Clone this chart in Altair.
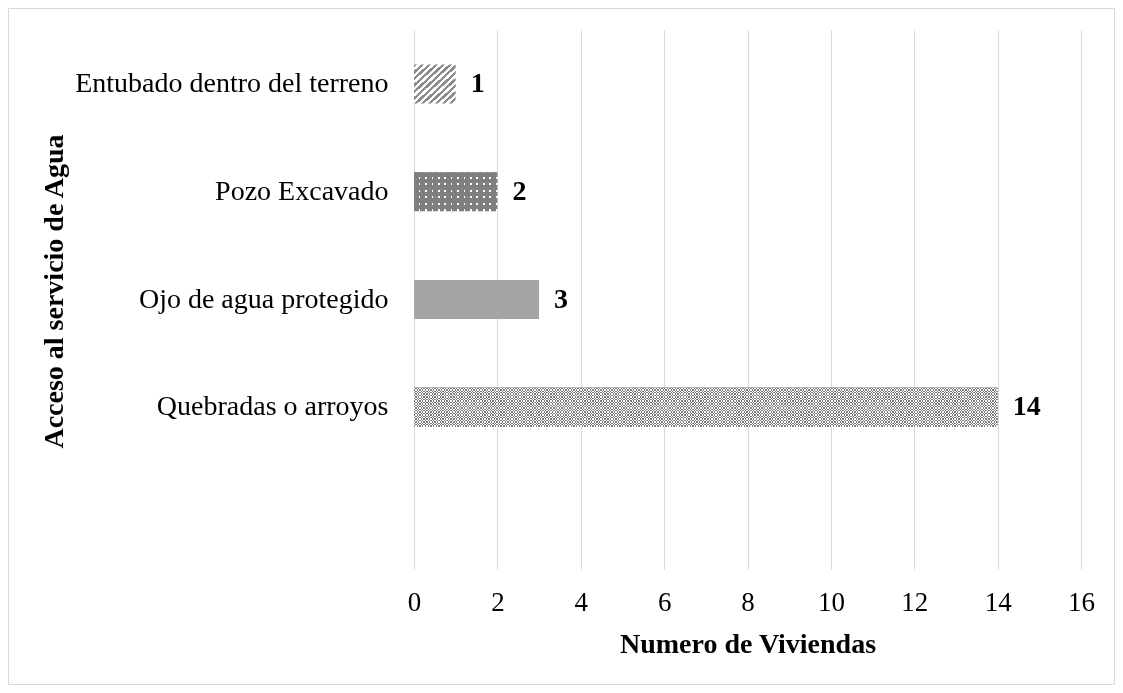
import altair as alt
import pandas as pd

# ---- data ----
categories = ["Entubado dentro del terreno", "Pozo Excavado\u00a0",
              "Ojo de agua protegido", "Quebradas o arroyos"]
values = [1, 2, 3, 14]
y_domain = categories + [""]          # empty fifth slot as in the original
x_ticks = [0, 2, 4, 6, 8, 10, 12, 14, 16]

df = pd.DataFrame({"acceso": categories, "viviendas": values})

FONT = "Liberation Serif"
GRID = "#d9d9d9"


# ---- fill textures (style only) built as hard-stop gradients ----
def stripes(n, c1, c2, x2, y2, frac=0.5):
    stops = []
    for i in range(n):
        a, b, c = i / n, (i + frac) / n, (i + 1) / n
        stops += [{"offset": a, "color": c1}, {"offset": b, "color": c1},
                  {"offset": b, "color": c2}, {"offset": c, "color": c2}]
    return {"gradient": "linear", "stops": stops,
            "x1": 0, "y1": 0, "x2": x2, "y2": y2}


hatch = stripes(12, "#8c8c8c", "#ffffff", 1, 1)
dot_rows = stripes(6, "#7f7f7f", "#ffffff", 0, 1, frac=0.72)
dot_cols = stripes(13, "#7f7f7f", "rgba(127,127,127,0)", 1, 0, frac=0.74)
chk_rows = stripes(14, "#000000", "#ffffff", 0, 1)
chk_cols = stripes(216, "#ffffff", "#000000", 1, 0)

y_enc = alt.Y(
    "acceso:N",
    scale=alt.Scale(domain=y_domain, paddingInner=0.638, paddingOuter=0.319),
    axis=alt.Axis(
        title="Acceso al servicio de Agua",
        titleFont=FONT, titleFontSize=28, titleFontWeight="bold", titleColor="black",
        titleAngle=270, titleAlign="center", titleBaseline="alphabetic",
        titleX=-352, titleY=261,
        labelFont=FONT, labelFontSize=28, labelColor="black", labelPadding=26,
        labelBaseline="middle", labelLimit=600,
        ticks=False, tickSize=0, domain=False, grid=False,
    ),
)
x_enc = alt.X(
    "viviendas:Q",
    scale=alt.Scale(domain=[0, 16], nice=False),
    axis=alt.Axis(
        values=x_ticks, title="Numero de Viviendas",
        titleFont=FONT, titleFontSize=28, titleFontWeight="bold", titleColor="black",
        titleBaseline="alphabetic", titleY=83,
        labelFont=FONT, labelFontSize=27, labelColor="black",
        labelBaseline="alphabetic", labelPadding=41, labelFlush=False,
        ticks=False, tickSize=0, domain=False,
        grid=True, gridColor=GRID, gridWidth=1,
    ),
)

base = alt.Chart(df).encode(x=x_enc, y=y_enc)


def only(i):
    return base.transform_filter(alt.datum.acceso == categories[i])


border = alt.Chart(pd.DataFrame({"a": [0]})).mark_rect(
    fillOpacity=0, stroke=GRID, strokeWidth=1
).encode(x=alt.value(-405.5), x2=alt.value(700.5),
         y=alt.value(-21.5), y2=alt.value(654.5))

bar_hatch = only(0).mark_bar(fill=hatch)
bar_dots_a = only(1).mark_bar(fill=dot_rows)
bar_dots_b = only(1).mark_bar(fill=dot_cols)
bar_solid = only(2).mark_bar(fill="#a5a5a5")
bar_chk_a = only(3).mark_bar(fill=chk_rows)
bar_chk_b = only(3).mark_bar(fill=chk_cols, blend="difference")
bar_chk_c = only(3).mark_bar(fill="#ffffff", opacity=0.48)

labels = base.mark_text(
    align="left", baseline="middle", dx=15,
    font=FONT, fontSize=28, fontWeight="bold", color="black"
).encode(text="viviendas:Q")

chart = alt.layer(
    border, bar_hatch, bar_dots_a, bar_dots_b, bar_solid,
    bar_chk_a, bar_chk_b, bar_chk_c, labels
).properties(
    width=667, height=539,
    padding={"left": 406, "top": 22, "right": 34, "bottom": 116},
    autosize=alt.AutoSizeParams(type="none"),
    background="white",
).configure_view(strokeWidth=0)

chart.save("out.html", embed_options={"renderer": "svg", "actions": False})
